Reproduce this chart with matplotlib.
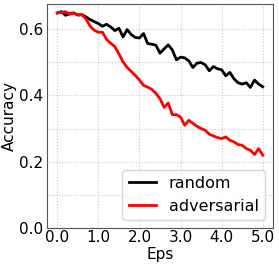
import numpy as np
import matplotlib
matplotlib.use("Agg")
import matplotlib.pyplot as plt
from matplotlib.ticker import MultipleLocator

eps = [round(0.1 * i, 1) for i in range(51)]
random_acc = [0.648, 0.652, 0.641, 0.646, 0.648, 0.642, 0.643, 0.636, 0.628, 0.622,
              0.616, 0.608, 0.614, 0.606, 0.595, 0.602, 0.576, 0.598, 0.583, 0.574,
              0.573, 0.586, 0.556, 0.554, 0.551, 0.527, 0.540, 0.552, 0.537, 0.507,
              0.515, 0.513, 0.504, 0.484, 0.497, 0.499, 0.492, 0.474, 0.487, 0.480,
              0.477, 0.459, 0.469, 0.450, 0.438, 0.434, 0.438, 0.424, 0.446, 0.434,
              0.426]
adv_acc = [0.648, 0.650, 0.652, 0.644, 0.648, 0.642, 0.642, 0.630, 0.608, 0.596,
           0.590, 0.590, 0.568, 0.557, 0.547, 0.525, 0.501, 0.484, 0.472, 0.460,
           0.446, 0.430, 0.425, 0.418, 0.406, 0.390, 0.364, 0.377, 0.342, 0.342,
           0.335, 0.310, 0.325, 0.316, 0.307, 0.300, 0.295, 0.283, 0.278, 0.273,
           0.270, 0.275, 0.265, 0.260, 0.252, 0.250, 0.240, 0.235, 0.222, 0.240,
           0.220]
xticks = [0.0, 1.0, 2.0, 3.0, 4.0, 5.0]
xticklabels = ["0.0", "1.0", "2.0", "3.0", "4.0", "5.0"]
yticks = [0.0, 0.2, 0.4, 0.6]

fig = plt.figure(figsize=(2.79, 2.67), dpi=100)
ax = fig.add_axes([47 / 279, 1 - 228.3 / 267, 226 / 279, 224.3 / 267])
ax.plot(eps, random_acc, color="black", lw=2, label="random")
ax.plot(eps, adv_acc, color="red", lw=2, label="adversarial")
ax.set_xlim(-0.25, 5.25)
ax.set_ylim(0, 0.675)
ax.set_xticks(xticks)
ax.set_xticklabels(xticklabels)
ax.set_yticks(yticks)
ax.yaxis.set_minor_locator(MultipleLocator(0.1))
ax.tick_params(which="both", length=0)
ax.tick_params(axis="x", labelsize=11, pad=1.5)
ax.tick_params(axis="y", labelsize=11, pad=3)
ax.grid(which="both", ls=":", color="#c8c8c8", lw=0.8)
ax.set_axisbelow(True)
for s in ax.spines.values():
    s.set_color("#555555")
ax.set_xlabel("Eps", fontsize=11, labelpad=1.5)
ax.set_ylabel("Accuracy", fontsize=11, labelpad=1)
ax.legend(loc="lower right", fontsize=11.5, handlelength=1.7, borderaxespad=0.5)
fig.savefig("out.png", dpi=100)
